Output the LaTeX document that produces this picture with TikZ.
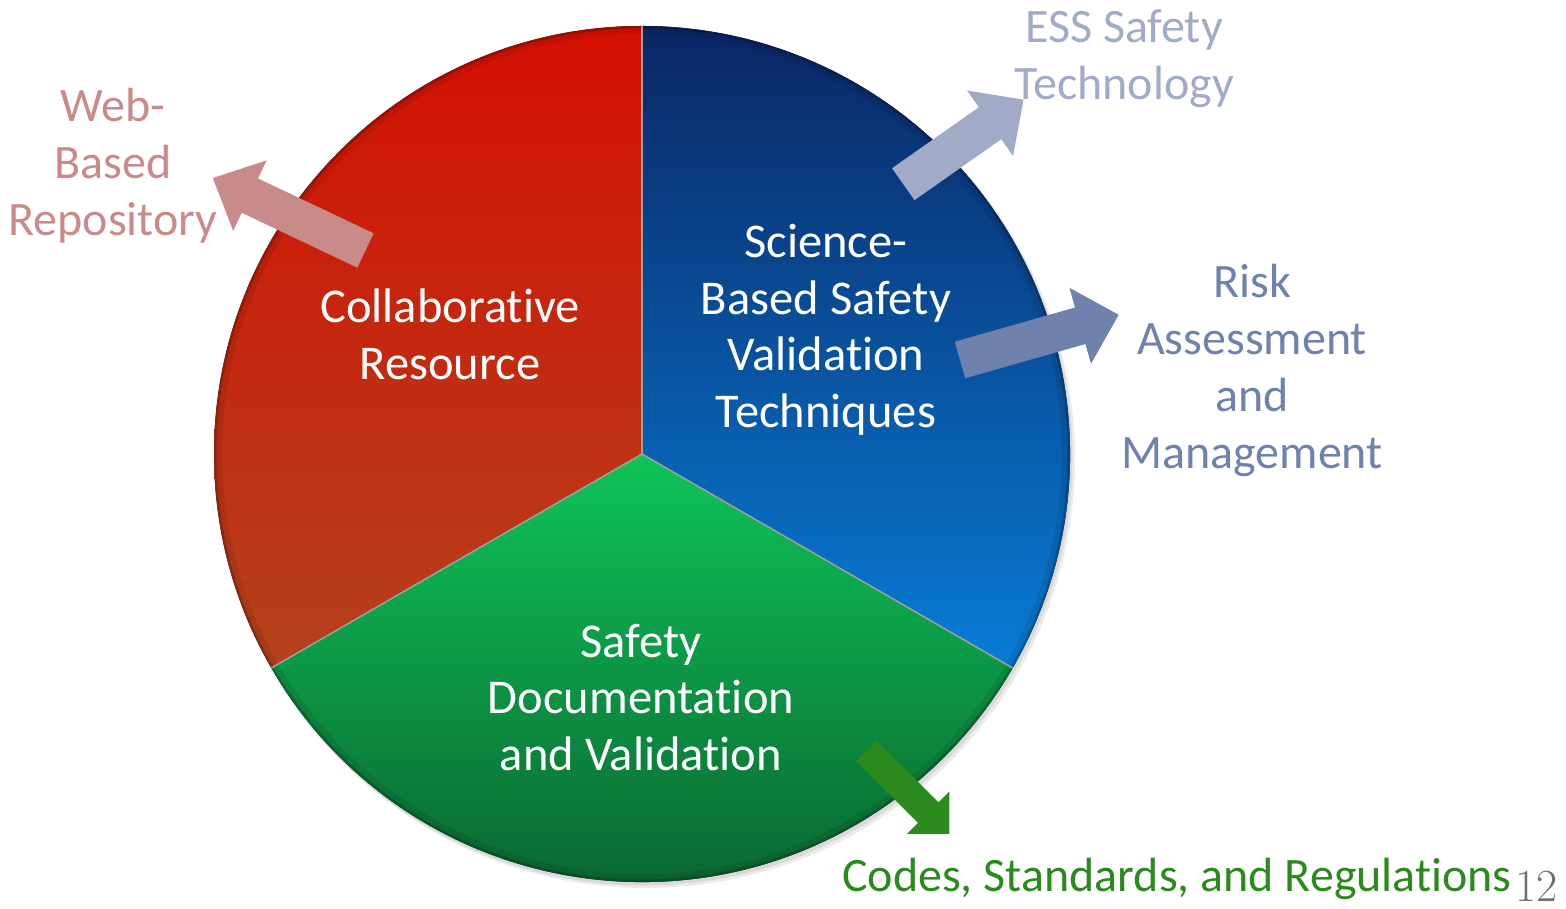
\documentclass[tikz,border=0pt]{standalone}
\usepackage{fontspec}
\newfontfamily\calfont[Ligatures=NoCommon]{Carlito}
\definecolor{redtop}{RGB}{212,16,2}
\definecolor{redbot}{RGB}{180,66,28}
\definecolor{bluetop}{RGB}{10,38,100}
\definecolor{bluebot}{RGB}{8,124,214}
\definecolor{greentop}{RGB}{14,196,88}
\definecolor{greenbot}{RGB}{10,92,44}
\definecolor{webcol}{RGB}{201,139,137}
\definecolor{esscol}{RGB}{161,171,200}
\definecolor{riskcol}{RGB}{110,130,171}
\definecolor{codecol}{RGB}{42,138,30}
\definecolor{numcol}{RGB}{112,112,112}
\tikzset{
  slicetext/.style={text=white, font=\calfont\fontsize{48.5}{56.5}\selectfont, align=center, inner sep=0pt},
  outtext/.style={font=\calfont\fontsize{48}{57}\selectfont, align=center, inner sep=0pt},
  seam/.style={draw=gray!75, line width=1.5pt},
}
\newcommand\blockarrow[8]{%
  \fill[#1, shift={(#2,#3)}, rotate=#4] (0,-#6/2) -- (#5-#8,-#6/2) -- (#5-#8,-#7/2) -- (#5,0)
     -- (#5-#8,#7/2) -- (#5-#8,#6/2) -- (0,#6/2) -- cycle;}
\begin{document}
\begin{tikzpicture}[x=1pt,y=1pt]
\useasboundingbox (0,0) rectangle (1566,908);
\coordinate (C) at (642,454);
% shadow
\fill[black, opacity=0.08] (646,449) circle (429);
\fill[black, opacity=0.08] (644,451) circle (428.5);
% slices
\fill[top color=redtop, bottom color=redbot] (C) -- ++(90:428) arc[start angle=90, end angle=210, radius=428] -- cycle;
\fill[top color=bluetop, bottom color=bluebot] (C) -- ++(-30:428) arc[start angle=-30, end angle=90, radius=428] -- cycle;
\fill[top color=greentop, bottom color=greenbot] (C) -- ++(210:428) arc[start angle=210, end angle=330, radius=428] -- cycle;
% rim bevel
\begin{scope}
  \clip (C) circle (428);
  \draw[black, opacity=0.08, line width=16pt] (C) circle (428);
  \draw[black, opacity=0.2, line width=5pt] (C) circle (428);
\end{scope}
\draw[seam] (C) -- ++(90:428);
\draw[seam] (C) -- ++(210:428);
\draw[seam] (C) -- ++(-30:428);
% arrows
\blockarrow{webcol}{365.5}{657.5}{154.6}{169}{38}{78}{41}
\blockarrow{esscol}{903.3}{723.8}{35.1}{147}{39}{80}{41}
\blockarrow{riskcol}{960}{548}{15.9}{165}{38}{79}{40}
\blockarrow{codecol}{866.3}{157.3}{-45}{117.6}{29}{60}{30}
% slice texts
\node[slicetext] (collab) at (450,573.5) {Collaborative\\Resource};
\node[slicetext] (science) at (826,578.5) {Science-\\Based Safety\\Validation\\Techniques};
\node[slicetext] (safety) at (641,210.5) {Safety\\Documentation\\and Validation};
% outer texts
\node[outtext, text=webcol] (web) at (113,742.5) {Web-\\Based\\Repository};
\node[outtext, text=esscol] (ess) at (1124,849.5) {ESS Safety\\Technology};
\node[outtext, text=riskcol] (risk) at (1252,537.5) {Risk\\Assessment\\and\\Management};
\node[outtext, text=codecol, anchor=base] (codes) at (1177,17) {Codes, Standards, and Regulations};
\node[text=numcol, font=\fontsize{46}{50}\selectfont, anchor=base east, inner sep=0pt] (page) at (1558,7) {12};
\end{tikzpicture}
\end{document}
